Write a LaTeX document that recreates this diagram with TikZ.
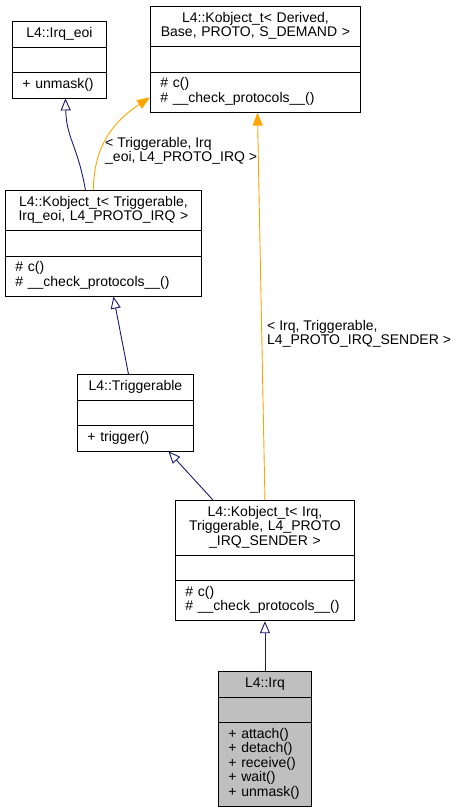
\documentclass[tikz,border=0pt]{standalone}
\usepackage{fontspec}
\setmainfont{Liberation Sans}
\usetikzlibrary{arrows.meta,shapes.multipart,positioning}
\definecolor{edgeblue}{HTML}{191970}
\definecolor{edgeorange}{HTML}{FFA500}
\definecolor{classgrey}{HTML}{BFBFBF}
\newcommand{\umlfont}{\fontsize{14}{14.6}\selectfont}
\newcommand{\members}[1]{\hbox to\hsize{\begin{tabular}{@{}l@{}}#1\end{tabular}\hfil}}

\tikzset{
  classbox/.style={rectangle split, rectangle split parts=3, draw=black, line width=0.9pt,
    font=\umlfont, text width=#1, inner xsep=10pt, inner ysep=5pt, align=center, anchor=north west},
  inherit/.style={draw=edgeblue, line width=0.9pt, -{Triangle[length=12pt,width=10pt,fill=white]}},
  templ/.style={draw=edgeorange, line width=0.9pt, -{Triangle[length=13pt,width=10pt]}},
  edgelabel/.style={font=\umlfont, align=left, inner sep=0pt, anchor=north west}
}

\begin{document}
\begin{tikzpicture}[x=1pt, y=-1pt]
    \useasboundingbox (0,0) rectangle (458,812);

    % classes
    \node[classbox=74pt] (irqeoi) at (12,21)
        {\strut L4::Irq\_eoi
         \nodepart{two}\strut
         \nodepart{three}\members{+ unmask()}};
    \node[classbox=190pt] (kderived) at (150,6)
        {\strut L4::Kobject\_t< Derived,\\ Base, PROTO, S\_DEMAND >\strut
         \nodepart{two}\strut
         \nodepart{three}\members{\# c()\\\# \_\_check\_protocols\_\_()}};
    \node[classbox=176pt] (ktrig) at (5,190)
        {\strut L4::Kobject\_t< Triggerable,\\ Irq\_eoi, L4\_PROTO\_IRQ >\strut
         \nodepart{two}\strut
         \nodepart{three}\members{\# c()\\\# \_\_check\_protocols\_\_()}};
    \node[classbox=96pt] (trig) at (77,374)
        {\strut L4::Triggerable
         \nodepart{two}\strut
         \nodepart{three}\members{+ trigger()}};
    \node[classbox=159pt] (kirq) at (175,500)
        {\strut L4::Kobject\_t< Irq,\\ Triggerable, L4\_PROTO\\ \_IRQ\_SENDER >\strut
         \nodepart{two}\strut
         \nodepart{three}\members{\# c()\\\# \_\_check\_protocols\_\_()}};
    \node[classbox=73pt, fill=classgrey] (irq) at (218,671)
        {\strut L4::Irq
         \nodepart{two}\strut
         \nodepart{three}\members{+ attach()\\+ detach()\\+ receive()\\+ wait()\\+ unmask()}};

    % template arguments
    \node[edgelabel] (lbltrig) at (105,137) {< Triggerable, Irq\\\_eoi, L4\_PROTO\_IRQ >};
    \node[edgelabel] (lblirq) at (267,320) {< Irq, Triggerable,\\L4\_PROTO\_IRQ\_SENDER >};

    % edges
    \draw[inherit] ([xshift=-18pt]ktrig.north) .. controls +(-8,-45) and +(1,40) .. ([xshift=6pt]irqeoi.south);
    \draw[templ] ([xshift=-10pt]ktrig.north) .. controls +(0,-50) and +(-30,20) .. ([yshift=-38pt]kderived.west);
    \draw[templ] (kirq.north) -- ([xshift=2pt]kderived.south);
    \draw[inherit] ([xshift=-7pt]trig.north) -- ([xshift=10pt]ktrig.south);
    \draw[inherit] ([xshift=-52pt]kirq.north) -- ([xshift=33pt]trig.south);
    \draw[inherit] (irq.north) -- (kirq.south);
\end{tikzpicture}
\end{document}
